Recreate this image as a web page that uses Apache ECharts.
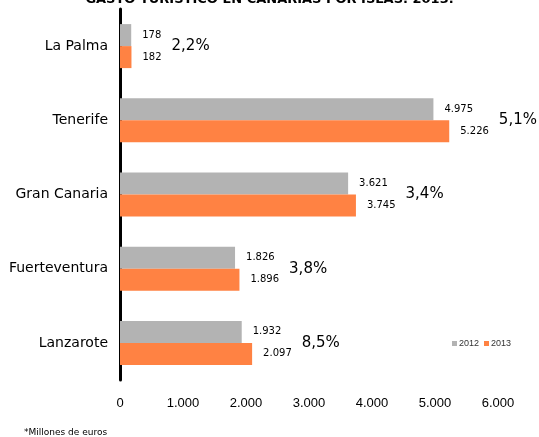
<!DOCTYPE html>
<html>
<head>
<meta charset="utf-8">
<script src="https://cdn.jsdelivr.net/npm/echarts@6/dist/echarts.min.js"></script>
<style>
  html, body { margin: 0; padding: 0; background: #fff; }
  #chart { width: 539px; height: 437px; }
</style>
</head>
<body>
<div id="chart"></div>
<script>
// Tourist spending per island, millions of euros
const categories = ['La Palma', 'Tenerife', 'Gran Canaria', 'Fuerteventura', 'Lanzarote'];
const gasto2012 = [178, 4975, 3621, 1826, 1932];
const gasto2013 = [182, 5226, 3745, 1896, 2097];
const variacion = ['2,2%', '5,1%', '3,4%', '3,8%', '8,5%'];
const xMax = 6000;
const xInterval = 1000;

// Spanish thousands separator
const fmt = v => String(v).replace(/\B(?=(\d{3})+(?!\d))/g, '.');

const chart = echarts.init(document.getElementById('chart'), null, { renderer: 'canvas' });

chart.setOption({
  backgroundColor: '#ffffff',
  animation: false,
  title: [
    {
      text: 'GASTO TURÍSTICO EN CANARIAS POR ISLAS. 2013.',
      left: 'center',
      top: -12,
      textStyle: { fontFamily: 'DejaVu Sans', fontWeight: 'bold', fontSize: 13, color: '#000' }
    },
    {
      text: '*Millones de euros',
      left: 19,
      top: 423,
      textStyle: { fontFamily: 'DejaVu Sans', fontWeight: 'normal', fontSize: 9, color: '#000' }
    }
  ],
  legend: {
    data: ['2012', '2013'],
    left: 447,
    top: 334,
    icon: 'rect',
    itemWidth: 5,
    itemHeight: 5,
    itemGap: 5,
    textStyle: { fontFamily: 'Liberation Sans', fontSize: 9, color: '#333', padding: [0, 0, 0, -3] }
  },
  grid: { left: 120, right: 41, top: 9, bottom: 57, containLabel: false },
  xAxis: {
    type: 'value',
    min: 0,
    max: xMax,
    interval: xInterval,
    axisLine: { show: false },
    axisTick: { show: false },
    splitLine: { show: false },
    axisLabel: {
      margin: 17,
      fontFamily: 'Liberation Sans',
      fontSize: 13,
      color: '#000',
      formatter: v => fmt(v)
    }
  },
  yAxis: {
    type: 'category',
    data: categories,
    inverse: true,
    axisLine: { show: true, lineStyle: { color: '#000', width: 3 } },
    axisTick: { show: false },
    axisLabel: { margin: 12, fontFamily: 'DejaVu Sans', fontSize: 14, color: '#000' }
  },
  series: [
    {
      name: '2012',
      type: 'bar',
      data: gasto2012,
      barWidth: 22,
      barGap: '0%',
      itemStyle: { color: '#b3b3b3' },
      label: {
        show: true,
        position: 'right',
        distance: 11,
        fontFamily: 'DejaVu Sans',
        fontSize: 10,
        color: '#000',
        formatter: p => fmt(p.value)
      }
    },
    {
      name: '2013',
      type: 'bar',
      data: gasto2013,
      barWidth: 22,
      barGap: '0%',
      itemStyle: { color: '#ff8243' },
      label: {
        show: true,
        position: 'right',
        distance: 11,
        formatter: p => '{v|' + fmt(p.value) + '}{p|' + variacion[p.dataIndex] + '}',
        rich: {
          v: { fontFamily: 'DejaVu Sans', fontSize: 10, color: '#000' },
          p: { fontFamily: 'DejaVu Sans', fontSize: 15, color: '#000', padding: [0, 0, 22, 10] }
        }
      }
    }
  ]
});
</script>
</body>
</html>
